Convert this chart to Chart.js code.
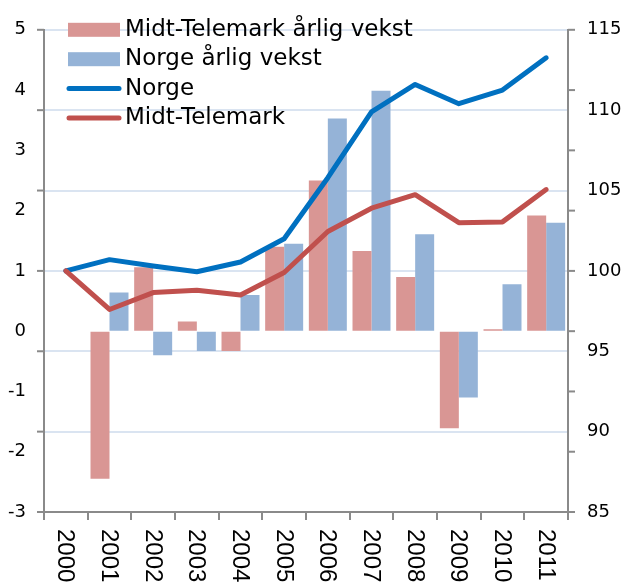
<!DOCTYPE html>
<html>
<head>
<meta charset="utf-8">
<script src="https://cdn.jsdelivr.net/npm/chart.js@4/dist/chart.umd.min.js"></script>
<style>
    body { margin: 0; background: #ffffff; }
    #wrap { width: 626px; height: 587px; }
</style>
</head>
<body>
<div id="wrap"><canvas id="growthChart" width="626" height="587"></canvas></div>
<script>
// Years on the x axis
const years = ['2000', '2001', '2002', '2003', '2004', '2005', '2006', '2007', '2008', '2009', '2010', '2011'];

// Annual growth in percent (left axis)
const midtTelemarkGrowth = [null, -2.45, 1.06, 0.16, -0.33, 1.40, 2.50, 1.33, 0.90, -1.61, 0.03, 1.92];
const norgeGrowth = [null, 0.64, -0.40, -0.33, 0.60, 1.45, 3.53, 3.99, 1.61, -1.10, 0.78, 1.80];

// Index, 2000 = 100 (right axis)
const norgeIndex = [100, 100.7, 100.3, 99.95, 100.55, 102.0, 105.8, 109.9, 111.6, 110.4, 111.25, 113.26];
const midtTelemarkIndex = [100, 97.6, 98.65, 98.8, 98.5, 99.9, 102.45, 103.9, 104.74, 103.0, 103.05, 105.06];

// Axis ranges
const leftMin = -3, leftMax = 5, leftStep = 1;
const rightMin = 85, rightMax = 115, rightStep = 5;

const axisColor = '#8a8a8a';
const gridColor = '#dae4f1';

// Tick marks in the original sit on the opposite axis' positions
const crossTicks = {
    id: 'crossTicks',
    afterDraw(chart) {
        const c = chart.ctx;
        const yL = chart.scales.y;
        const yR = chart.scales.y2;
        c.save();
        c.strokeStyle = axisColor;
        c.lineWidth = 2;
        yR.ticks.forEach(function (t) {
            const py = yR.getPixelForValue(t.value);
            c.beginPath();
            c.moveTo(yL.right - 7, py);
            c.lineTo(yL.right, py);
            c.stroke();
        });
        yL.ticks.forEach(function (t) {
            const py = yL.getPixelForValue(t.value);
            c.beginPath();
            c.moveTo(yR.left, py);
            c.lineTo(yR.left + 7, py);
            c.stroke();
        });
        c.restore();
    }
};

// Year labels rotated clockwise (reading downwards)
const yearLabels = {
    id: 'yearLabels',
    afterDraw(chart) {
        const c = chart.ctx;
        const x = chart.scales.x;
        c.save();
        c.fillStyle = '#000000';
        c.font = '24px "Liberation Sans", Arial, sans-serif';
        c.textAlign = 'left';
        c.textBaseline = 'middle';
        years.forEach(function (label, i) {
            c.save();
            c.translate(x.getPixelForValue(i) - 1, x.top + 17);
            c.rotate(Math.PI / 2);
            c.fillText(label, 0, 0);
            c.restore();
        });
        c.restore();
    }
};

// Legend drawn inside the plot, top left
const innerLegend = {
    id: 'innerLegend',
    afterDraw(chart) {
        const c = chart.ctx;
        const area = chart.chartArea;
        const x0 = area.left + 24;
        c.save();
        c.font = '23px "DejaVu Sans", sans-serif';
        c.textBaseline = 'middle';
        c.textAlign = 'left';
        chart.data.datasets.forEach(function (ds, i) {
            const cy = area.top + i * 29.4;
            if (ds.type === 'line') {
                c.strokeStyle = ds.borderColor;
                c.lineWidth = 5;
                c.lineCap = 'round';
                c.beginPath();
                c.moveTo(x0 + 1, cy);
                c.lineTo(x0 + 51, cy);
                c.stroke();
            } else {
                c.fillStyle = ds.backgroundColor;
                c.fillRect(x0, cy - 7, 52, 14);
            }
            c.fillStyle = '#000000';
            c.fillText(ds.label, x0 + 57, cy);
        });
        c.restore();
    }
};

const ctx = document.getElementById('growthChart').getContext('2d');

new Chart(ctx, {
    data: {
        labels: years,
        datasets: [{
            type: 'bar',
            label: 'Midt-Telemark årlig vekst',
            data: midtTelemarkGrowth,
            backgroundColor: '#d99694',
            yAxisID: 'y',
            order: 2,
            categoryPercentage: 0.87,
            barPercentage: 1.0
        }, {
            type: 'bar',
            label: 'Norge årlig vekst',
            data: norgeGrowth,
            backgroundColor: '#95b3d7',
            yAxisID: 'y',
            order: 2,
            categoryPercentage: 0.87,
            barPercentage: 1.0
        }, {
            type: 'line',
            label: 'Norge',
            data: norgeIndex,
            borderColor: '#0070c0',
            borderWidth: 5,
            borderJoinStyle: 'round',
            borderCapStyle: 'round',
            pointRadius: 0,
            tension: 0,
            yAxisID: 'y2',
            order: 1
        }, {
            type: 'line',
            label: 'Midt-Telemark',
            data: midtTelemarkIndex,
            borderColor: '#c0504d',
            borderWidth: 5,
            borderJoinStyle: 'round',
            borderCapStyle: 'round',
            pointRadius: 0,
            tension: 0,
            yAxisID: 'y2',
            order: 0
        }]
    },
    options: {
        responsive: false,
        animation: false,
        devicePixelRatio: 1,
        layout: {
            padding: { top: 24, left: 0, right: 0, bottom: 0 }
        },
        plugins: {
            legend: { display: false },
            tooltip: { enabled: false }
        },
        scales: {
            x: {
                offset: true,
                grid: {
                    offset: true,
                    drawOnChartArea: false,
                    drawTicks: true,
                    tickLength: 8,
                    color: axisColor,
                    lineWidth: 2
                },
                border: { display: true, color: axisColor, width: 2 },
                ticks: { display: false },
                afterFit: function (scale) { scale.height = 75; }
            },
            y: {
                position: 'left',
                min: leftMin,
                max: leftMax,
                grid: { drawOnChartArea: false, drawTicks: false },
                border: { display: true, color: axisColor, width: 2 },
                ticks: {
                    stepSize: leftStep,
                    padding: 18,
                    color: '#000000',
                    font: { family: '"DejaVu Sans", sans-serif', size: 18 }
                },
                afterFit: function (scale) { scale.width = 44; }
            },
            y2: {
                position: 'right',
                min: rightMin,
                max: rightMax,
                grid: { drawOnChartArea: true, drawTicks: false, color: gridColor, lineWidth: 2 },
                border: { display: true, color: axisColor, width: 2 },
                ticks: {
                    stepSize: rightStep,
                    padding: 19,
                    color: '#000000',
                    font: { family: '"DejaVu Sans", sans-serif', size: 18 }
                },
                afterFit: function (scale) { scale.width = 58; }
            }
        }
    },
    plugins: [crossTicks, yearLabels, innerLegend]
});
</script>
</body>
</html>
